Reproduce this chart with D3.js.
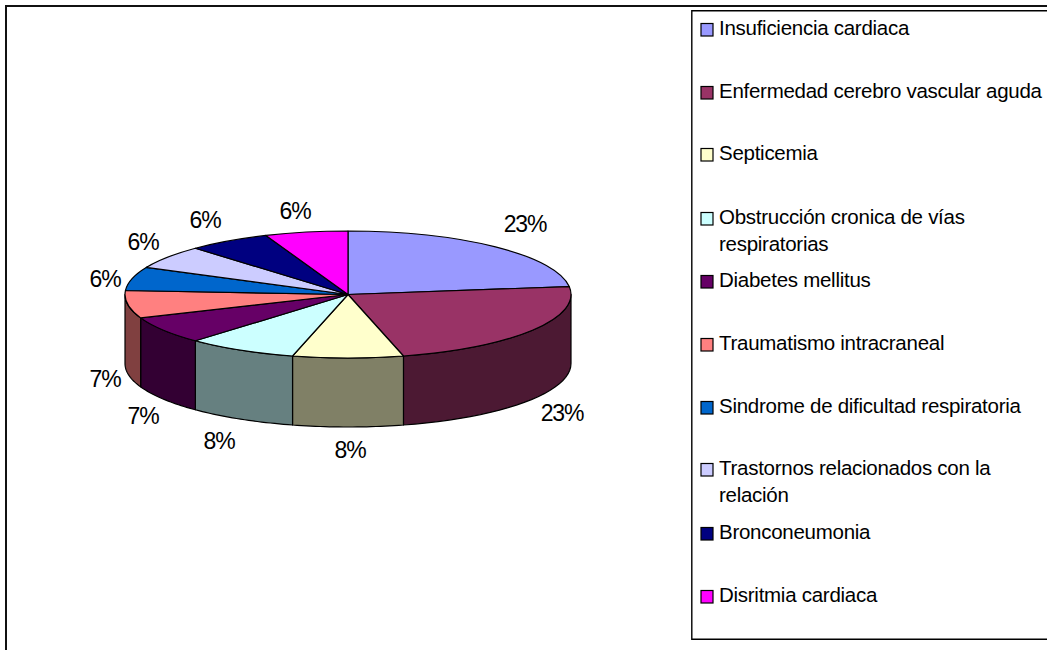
<!DOCTYPE html>
<html>
<head>
<meta charset="utf-8">
<script src="https://cdn.jsdelivr.net/npm/d3@7"></script>
<style>
html, body { margin: 0; padding: 0; background: #fff; overflow: hidden; }
text { font-family: "Liberation Sans", Arial, sans-serif; fill: #000; }
</style>
</head>
<body>
<svg id="chart" width="1047" height="650"></svg>
<script>
// Chart data
const categories = [
    ["Insuficiencia cardiaca"],
    ["Enfermedad cerebro vascular aguda"],
    ["Septicemia"],
    ["Obstrucción cronica de vías", "respiratorias"],
    ["Diabetes mellitus"],
    ["Traumatismo intracraneal"],
    ["Sindrome de dificultad respiratoria"],
    ["Trastornos relacionados con la", "relación"],
    ["Bronconeumonia"],
    ["Disritmia cardiaca"]
];
const percents = [23, 23, 8, 8, 7, 7, 6, 6, 6, 6];
const topColors = ["#9999FF", "#993366", "#FFFFCC", "#CCFFFF", "#660066", "#FF8080", "#0066CC", "#CCCCFF", "#000080", "#FF00FF"];
const sideColors = ["#4C4C80", "#4C1933", "#808066", "#668080", "#330033", "#804040", "#003366", "#666680", "#000040", "#800080"];
const legendRows = [29, 92, 154, 218, 281, 344, 407, 469, 533, 596];
const labelSpots = [[525, 224], [562, 413], [350, 450], [219, 441], [143, 416], [105, 379], [105, 279], [143, 242], [205, 220], [295, 211]];

const svg = d3.select("#chart");

// Pie geometry
const cx = 348, cy = 294.5, rx = 223, ry = 63.5, depth = 69;
const pieLayout = d3.pie().sort(null).value(d => d);
const slices = pieLayout(percents);

// Outer frame, it runs off the bottom and right of the picture
svg.append("path")
    .attr("d", "M6,650V6H1047")
    .attr("fill", "none").attr("stroke", "#111").attr("stroke-width", 2);

// Side walls first, only the front half of the ellipse shows
const edgePoint = a => [cx + rx * Math.sin(a), cy - ry * Math.cos(a)];
const wallLine = d3.line();
slices.forEach((s, i) => {
    const a0 = Math.max(s.startAngle, Math.PI / 2);
    const a1 = Math.min(s.endAngle, Math.PI * 1.5);
    if (a1 <= a0) return;
    const steps = d3.range(0, 25).map(k => a0 + (a1 - a0) * k / 24);
    const top = steps.map(edgePoint);
    const bottom = steps.map(edgePoint).reverse().map(p => [p[0], p[1] + depth]);
    svg.append("path")
        .attr("d", wallLine(top.concat(bottom)) + "Z")
        .attr("fill", sideColors[i])
        .attr("stroke", "#000").attr("stroke-width", 1.2).attr("stroke-linejoin", "round");
});

// Top face: circular arcs squashed into an ellipse
const arc = d3.arc().innerRadius(0).outerRadius(rx);
svg.append("g")
    .attr("transform", `translate(${cx},${cy}) scale(1,${ry / rx})`)
    .selectAll("path")
    .data(slices)
    .join("path")
    .attr("d", arc)
    .attr("fill", (d, i) => topColors[i])
    .attr("stroke", "#000").attr("stroke-width", 1.2)
    .attr("stroke-linejoin", "round")
    .attr("vector-effect", "non-scaling-stroke");

// Percent labels
svg.append("g").selectAll("text")
    .data(percents)
    .join("text")
    .attr("x", (d, i) => labelSpots[i][0])
    .attr("y", (d, i) => labelSpots[i][1])
    .attr("dy", "0.35em")
    .attr("text-anchor", "middle")
    .attr("font-size", 23)
    .attr("letter-spacing", -1.2)
    .text(d => d + "%");

// Legend box
svg.append("path")
    .attr("d", "M1047,10.8H691.8V639.3H1047")
    .attr("fill", "#fff").attr("stroke", "#000").attr("stroke-width", 1.4);

const legend = svg.append("g").selectAll("g")
    .data(categories)
    .join("g")
    .attr("transform", (d, i) => `translate(0,${legendRows[i]})`);

legend.append("rect")
    .attr("x", 701).attr("y", -5.5)
    .attr("width", 12).attr("height", 12.5)
    .attr("fill", (d, i) => topColors[i])
    .attr("stroke", "#000").attr("stroke-width", 1.2);

legend.append("text")
    .attr("x", 719)
    .attr("font-size", 20.5)
    .attr("letter-spacing", -0.27)
    .selectAll("tspan")
    .data(d => d)
    .join("tspan")
    .attr("x", 719)
    .attr("y", (d, i) => 6 + i * 27)
    .text(d => d);
</script>
</body>
</html>
